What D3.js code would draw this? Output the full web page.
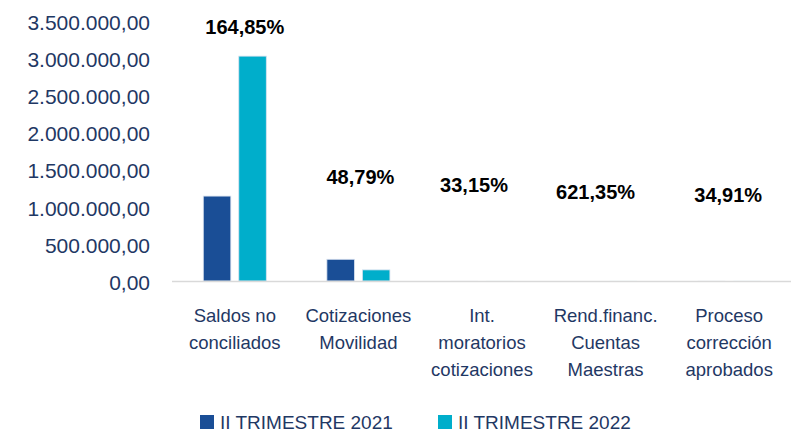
<!DOCTYPE html>
<html>
<head>
<meta charset="utf-8">
<script src="https://cdn.jsdelivr.net/npm/d3@7"></script>
<style>
  body { margin: 0; background: #fff; }
  text { font-family: "Liberation Sans", Arial, sans-serif; }
</style>
</head>
<body>
<script>
// data
var categories = [
  ['Saldos no', 'conciliados'],
  ['Cotizaciones', 'Movilidad'],
  ['Int.', 'moratorios', 'cotizaciones'],
  ['Rend.financ.', 'Cuentas', 'Maestras'],
  ['Proceso', 'corrección', 'aprobados']
];
var series = ['II TRIMESTRE 2021', 'II TRIMESTRE 2022'];
var values2021 = [1143000, 292000, 185, 42, 290];
var values2022 = [3027000, 149500, 246, 303, 391];
var growthLabels = ['164,85%', '48,79%', '33,15%', '621,35%', '34,91%'];
// where the % labels sit (in axis units) and their sideways nudge
var labelLevels = [3419000, 1400000, 1292000, 1198000, 1158000];
var labelShift = [10, 2, -8, -10, -1];
var yTicks = [0, 500000, 1000000, 1500000, 2000000, 2500000, 3000000, 3500000];

var colors = ['#1A4E96', '#00AECB'];
var textColor = '#1F3864';

var width = 791, height = 433;
var svg = d3.select('body').append('svg')
  .attr('width', width).attr('height', height);

var fmt = d3.formatLocale({decimal: ',', thousands: '.', grouping: [3], currency: ['', '']}).format(',.2f');

var x0 = d3.scaleBand().domain(d3.range(categories.length)).range([173, 791]);
var x1 = d3.scaleBand().domain(series).range([-31.5, 31.5]).paddingInner(0.225);
var y = d3.scaleLinear().domain([0, 3500000]).range([281, 21]);

// y axis labels
var yAxis = d3.axisLeft(y).tickValues(yTicks).tickFormat(fmt).tickSize(0).tickPadding(0);
var ya = svg.append('g').attr('transform', 'translate(150,0)').call(yAxis);
ya.select('.domain').remove();
ya.selectAll('text')
  .style('font-size', '21px')
  .style('font-family', '"Liberation Sans", Arial, sans-serif')
  .attr('fill', textColor)
  .attr('dy', '0.4em');

// bars
var rows = categories.map(function(c, i) {
  return [{s: series[0], v: values2021[i]}, {s: series[1], v: values2022[i]}];
});
var groups = svg.selectAll('g.cat').data(rows).enter().append('g')
  .attr('class', 'cat')
  .attr('transform', function(d, i) { return 'translate(' + (x0(i) + x0.bandwidth() / 2) + ',0)'; });

groups.selectAll('rect').data(function(d) { return d; }).enter().append('rect')
  .attr('x', function(d) { return x1(d.s); })
  .attr('width', x1.bandwidth())
  .attr('y', function(d) { return y(d.v); })
  .attr('height', function(d) { return y(0) - y(d.v); })
  .attr('fill', function(d, j) { return colors[j]; })
  .attr('stroke', function(d) { return y(0) - y(d.v) > 2 ? '#d6e0ee' : 'none'; })
  .attr('stroke-width', 0.8);

// baseline
svg.append('line')
  .attr('x1', 172).attr('x2', 791)
  .attr('y1', y(0) + 0.5).attr('y2', y(0) + 0.5)
  .attr('stroke', '#d9d9d9').attr('stroke-width', 1.5);

// growth labels
svg.selectAll('text.pct').data(growthLabels).enter().append('text')
  .attr('class', 'pct')
  .attr('x', function(d, i) { return x0(i) + x0.bandwidth() / 2 + labelShift[i]; })
  .attr('y', function(d, i) { return y(labelLevels[i]); })
  .attr('dy', '0.36em')
  .attr('text-anchor', 'middle')
  .style('font-size', '20px')
  .style('font-weight', 'bold')
  .attr('fill', '#000')
  .text(function(d) { return d; });

// category labels
var cl = svg.selectAll('text.cl').data(categories).enter().append('text')
  .attr('class', 'cl')
  .attr('text-anchor', 'middle')
  .attr('fill', textColor)
  .style('font-size', '18.5px');
cl.selectAll('tspan').data(function(d, i) { return d.map(function(t) { return {t: t, i: i}; }); })
  .enter().append('tspan')
  .attr('x', function(d) { return x0(d.i) + x0.bandwidth() / 2; })
  .attr('y', function(d, k) { return 322 + k * 27; })
  .text(function(d) { return d.t; });

// legend
var legX = [200, 438];
var leg = svg.selectAll('g.leg').data(series).enter().append('g')
  .attr('class', 'leg')
  .attr('transform', function(d, i) { return 'translate(' + legX[i] + ',415)'; });
leg.append('rect').attr('width', 14).attr('height', 14)
  .attr('fill', function(d, i) { return colors[i]; });
leg.append('text').attr('x', 20).attr('y', 14)
  .attr('fill', textColor)
  .style('font-size', '19px')
  .text(function(d) { return d; });
</script>
</body>
</html>
